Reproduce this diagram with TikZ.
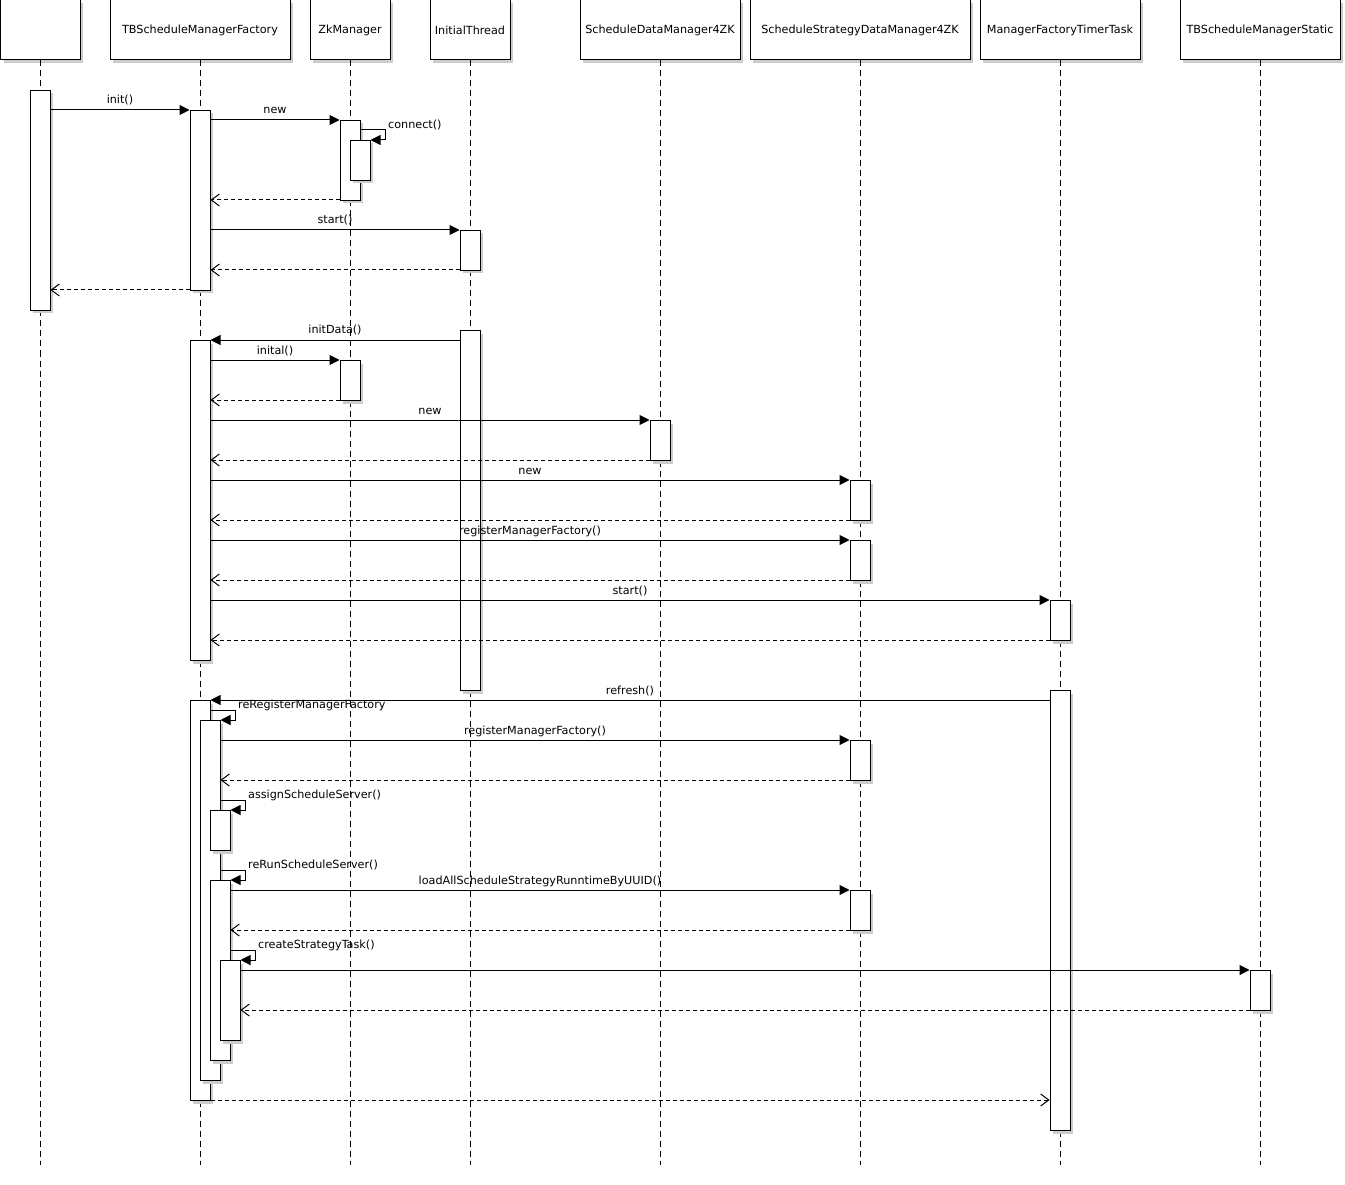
\documentclass[tikz,border=0pt]{standalone}
\usepackage{fontspec}
\setmainfont{DejaVu Sans}
\usetikzlibrary{arrows.meta,shadows}
\tikzset{
  txt/.style={font=\fontsize{11.2}{13}\selectfont},
  hdr/.style={draw, line width=1pt, fill=white, minimum height=60pt, inner sep=0pt, txt,
    drop shadow={shadow xshift=3pt, shadow yshift=-3pt, fill=black!20, opacity=1}},
  bar/.style={draw, line width=1pt, fill=white, minimum width=20pt, inner sep=0pt, anchor=north,
    drop shadow={shadow xshift=3pt, shadow yshift=-3pt, fill=black!20, opacity=1}},
  life/.style={line width=1pt, dash pattern=on 6pt off 4pt},
  msg/.style={line width=1pt, -{Triangle[length=10pt,width=10pt]}},
  ret/.style={line width=1pt, dash pattern=on 4pt off 3pt, -{Straight Barb[length=8pt,width=12pt]}},
  lbl/.style={midway, anchor=base, yshift=6pt, inner sep=0pt, txt},
  slbl/.style={anchor=base west, inner sep=0pt, txt},
}
\begin{document}
\begin{tikzpicture}[x=1pt,y=-1pt]
\useasboundingbox (0,0) rectangle (1345,1185);
% headers
\node[hdr, minimum width=79.5pt] (h0) at (40.5,30) {};
\node[hdr, minimum width=180pt] (h1) at (200,30) {TBScheduleManagerFactory};
\node[hdr, minimum width=80pt] (h2) at (350,30) {ZkManager};
\node[hdr, minimum width=80pt] (h3) at (470,30) {InitialThread};
\node[hdr, minimum width=160pt] (h4) at (660,30) {ScheduleDataManager4ZK};
\node[hdr, minimum width=220pt] (h5) at (860,30) {ScheduleStrategyDataManager4ZK};
\node[hdr, minimum width=160pt] (h6) at (1060,30) {ManagerFactoryTimerTask};
\node[hdr, minimum width=160pt] (h7) at (1260,30) {TBScheduleManagerStatic};
% lifelines
\foreach \h in {h0,h1,h2,h3,h4,h5,h6,h7}
  \draw[life] (\h.south) -- (\h.south |- 0,1165);
% activation bars
\node[bar, minimum height=220pt] (u1) at (40,90) {};
\node[bar, minimum height=180pt] (f1) at (200,110) {};
\node[bar, minimum height=80pt] (z1) at (350,120) {};
\node[bar, minimum height=40pt] (z1b) at (360,140) {};
\node[bar, minimum height=40pt] (t1) at (470,230) {};
\node[bar, minimum height=360pt] (t2) at (470,330) {};
\node[bar, minimum height=320pt] (f2) at (200,340) {};
\node[bar, minimum height=40pt] (z2) at (350,360) {};
\node[bar, minimum height=40pt] (d1) at (660,420) {};
\node[bar, minimum height=40pt] (s1) at (860,480) {};
\node[bar, minimum height=40pt] (s2) at (860,540) {};
\node[bar, minimum height=40pt] (m1) at (1060,600) {};
\node[bar, minimum height=440pt] (m2) at (1060,690) {};
\node[bar, minimum height=400pt] (f3) at (200,700) {};
\node[bar, minimum height=360pt] (f4) at (210,720) {};
\node[bar, minimum height=40pt] (f5) at (220,810) {};
\node[bar, minimum height=180pt] (f6) at (220,880) {};
\node[bar, minimum height=80pt] (f7) at (230,960) {};
\node[bar, minimum height=40pt] (s3) at (860,740) {};
\node[bar, minimum height=40pt] (s4) at (860,890) {};
\node[bar, minimum height=40pt] (st1) at (1260,970) {};
% messages
\draw[msg] (u1.east |- 0,110) -- (f1.west |- 0,110) node[lbl] {init()};
\draw[msg] (f1.east |- 0,120) -- (z1.west |- 0,120) node[lbl] {new};
\draw[msg] (z1.east |- 0,130) -- ++(25,0) -- ++(0,10) -- (z1b.east |- 0,140);
\node[slbl] (lconnect) at (388,129) {connect()};
\draw[ret] (z1.west |- 0,200) -- (f1.east |- 0,200);
\draw[msg] (f1.east |- 0,230) -- (t1.west |- 0,230) node[lbl] {start()};
\draw[ret] (t1.west |- 0,270) -- (f1.east |- 0,270);
\draw[ret] (f1.west |- 0,290) -- (u1.east |- 0,290);
\draw[msg] (t2.west |- 0,340) -- (f2.east |- 0,340) node[lbl] {initData()};
\draw[msg] (f2.east |- 0,360) -- (z2.west |- 0,360) node[lbl] {inital()};
\draw[ret] (z2.west |- 0,400) -- (f2.east |- 0,400);
\draw[msg] (f2.east |- 0,420) -- (d1.west |- 0,420) node[lbl] {new};
\draw[ret] (d1.west |- 0,460) -- (f2.east |- 0,460);
\draw[msg] (f2.east |- 0,480) -- (s1.west |- 0,480) node[lbl] {new};
\draw[ret] (s1.west |- 0,520) -- (f2.east |- 0,520);
\draw[msg] (f2.east |- 0,540) -- (s2.west |- 0,540) node[lbl] {registerManagerFactory()};
\draw[ret] (s2.west |- 0,580) -- (f2.east |- 0,580);
\draw[msg] (f2.east |- 0,600) -- (m1.west |- 0,600) node[lbl] {start()};
\draw[ret] (m1.west |- 0,640) -- (f2.east |- 0,640);
\draw[msg] (m2.west |- 0,700) -- (f3.east |- 0,700) node[lbl] {refresh()};
\draw[msg] (f3.east |- 0,710) -- ++(25,0) -- ++(0,10) -- (f4.east |- 0,720);
\node[slbl] (lrereg) at (238,708) {reRegisterManagerFactory};
\draw[msg] (f4.east |- 0,740) -- (s3.west |- 0,740) node[lbl] {registerManagerFactory()};
\draw[ret] (s3.west |- 0,780) -- (f4.east |- 0,780);
\draw[msg] (f4.east |- 0,800) -- ++(25,0) -- ++(0,10) -- (f5.east |- 0,810);
\node[slbl] (lassign) at (248,798) {assignScheduleServer()};
\draw[msg] (f4.east |- 0,870) -- ++(25,0) -- ++(0,10) -- (f6.east |- 0,880);
\node[slbl] (lrerun) at (248,868) {reRunScheduleServer()};
\draw[msg] (f6.east |- 0,890) -- (s4.west |- 0,890) node[lbl] {loadAllScheduleStrategyRunntimeByUUID()};
\draw[ret] (s4.west |- 0,930) -- (f6.east |- 0,930);
\draw[msg] (f6.east |- 0,950) -- ++(25,0) -- ++(0,10) -- (f7.east |- 0,960);
\node[slbl] (lcreate) at (258,948) {createStrategyTask()};
\draw[msg] (f7.east |- 0,970) -- (st1.west |- 0,970);
\draw[ret] (st1.west |- 0,1010) -- (f7.east |- 0,1010);
\draw[ret] (f3.east |- 0,1100) -- (m2.west |- 0,1100);
\end{tikzpicture}
\end{document}
